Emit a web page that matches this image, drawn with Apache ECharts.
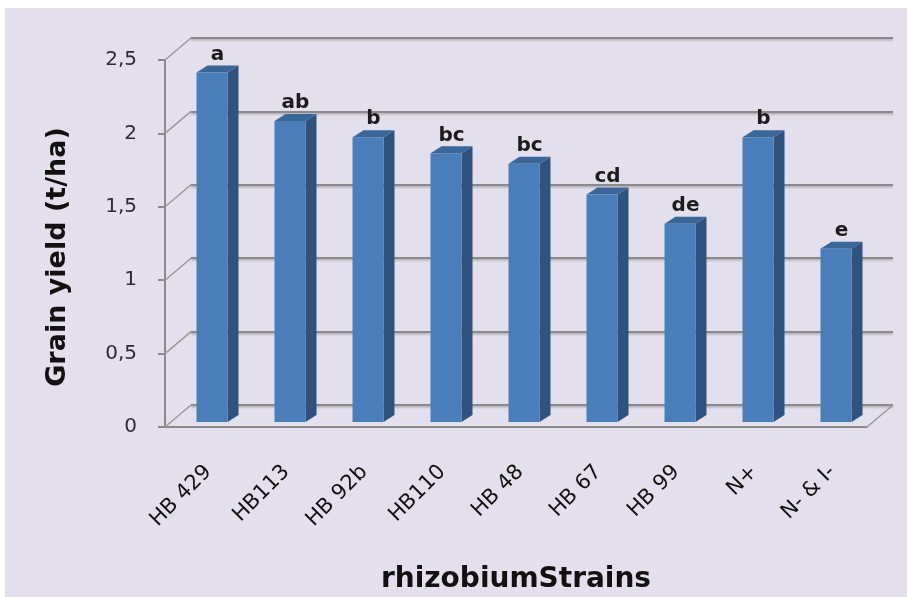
<!DOCTYPE html>
<html>
<head>
<meta charset="utf-8">
<script src="https://cdn.jsdelivr.net/npm/echarts@6/dist/echarts.min.js"></script>
<style>
html,body{margin:0;padding:0;background:#ffffff;}
#chart{width:907px;height:597px;}
</style>
</head>
<body>
<div id="chart"></div>
<script>
// ---- data ----
const categories = ['HB 429', 'HB113', 'HB 92b', 'HB110', 'HB 48', 'HB 67', 'HB 99', 'N+', 'N- & I-'];
const grainYield = [2.38, 2.05, 1.94, 1.83, 1.76, 1.55, 1.35, 1.94, 1.18];
const letters = ['a', 'ab', 'b', 'bc', 'bc', 'cd', 'de', 'b', 'e'];
const yTicks = [0, 0.5, 1, 1.5, 2, 2.5];
const yTitle = 'Grain yield (t/ha)';
const xTitle = 'rhizobiumStrains';

// ---- style constants ----
const FONT = 'DejaVu Sans';
const DX = 26, DY = -22;          // wall depth offset
const BAR_W = 31, BAR_DX = 11, BAR_DY = 7, BAR_SHIFT = 8, BAR_LIFT = 5;
const GRID_COLOR = '#8a8a8a';

const chart = echarts.init(document.getElementById('chart'), null, {renderer: 'canvas'});

const option = {
  animation: false,
  backgroundColor: '#e4dfec',
  grid: [
    {left: 165, top: 60, width: 702, height: 367},
    {left: 165 + DX, top: 60 + DY, width: 702, height: 367}
  ],
  xAxis: [
    {
      gridIndex: 0, type: 'category', data: categories,
      axisLine: {lineStyle: {color: GRID_COLOR, width: 2}},
      axisTick: {length: 6, lineStyle: {color: GRID_COLOR, width: 2}},
      axisLabel: {
        rotate: 45, fontFamily: FONT, fontSize: 21, color: '#111111',
        margin: 46, padding: [0, -6, 0, 0], interval: 0
      }
    },
    {gridIndex: 1, type: 'category', data: categories, show: false}
  ],
  yAxis: [
    {
      gridIndex: 0, type: 'value', min: 0, max: 2.5, interval: 0.5,
      axisLine: {show: true, lineStyle: {color: GRID_COLOR, width: 2}},
      axisTick: {show: true, length: 7, lineStyle: {color: GRID_COLOR, width: 2}},
      splitLine: {show: false},
      axisLabel: {
        fontFamily: FONT, fontSize: 20, color: '#2a2a3a', margin: 28,
        formatter: v => String(v).replace('.', ',')
      }
    },
    {
      gridIndex: 1, type: 'value', min: 0, max: 2.5, interval: 0.5,
      axisLine: {show: false}, axisTick: {show: false}, axisLabel: {show: false},
      splitLine: {show: true, lineStyle: {color: GRID_COLOR, width: 2,
        shadowColor: 'rgba(0,0,0,0.25)', shadowBlur: 2, shadowOffsetY: 1.5}}
    }
  ],
  graphic: [
    {type: 'rect', shape: {x: 0, y: 0, width: 5, height: 597}, style: {fill: '#ffffff'}, silent: true},
    {type: 'rect', shape: {x: 0, y: 0, width: 907, height: 8}, style: {fill: '#ffffff'}, silent: true},
    {type: 'text', x: 58, y: 257, rotation: Math.PI / 2,
      style: {text: yTitle, fontFamily: FONT, fontSize: 27, fontWeight: 'bold', fill: '#111111',
        align: 'center', verticalAlign: 'middle'}},
    {type: 'text', x: 516, y: 580,
      style: {text: xTitle, fontFamily: FONT, fontSize: 28, fontWeight: 'bold', fill: '#111111',
        align: 'center', verticalAlign: 'middle'}}
  ],
  series: [
    {
      type: 'custom', xAxisIndex: 0, yAxisIndex: 0, z: 1, silent: true,
      data: yTicks.map(v => [0, v]),
      renderItem: function (params, api) {
        const cs = params.coordSys;
        const p = api.coord([0, api.value(1)]);
        const x0 = cs.x, y0 = p[1];
        const children = [{
          type: 'line',
          shape: {x1: x0, y1: y0, x2: x0 + DX, y2: y0 + DY},
          style: {stroke: '#9a9a9a', lineWidth: 1.5}
        }];
        if (api.value(1) === 0) {
          const xr = cs.x + cs.width;
          children.push({
            type: 'line',
            shape: {x1: xr, y1: y0, x2: xr + DX, y2: y0 + DY},
            style: {stroke: '#9a9a9a', lineWidth: 1.5}
          });
        }
        return {type: 'group', children: children};
      }
    },
    {
      type: 'custom', xAxisIndex: 0, yAxisIndex: 0, z: 5, silent: true,
      data: grainYield.map((v, i) => [i, v]),
      renderItem: function (params, api) {
        const i = api.value(0), v = api.value(1);
        const top = api.coord([i, v]);
        const base = api.coord([i, 0]);
        const x0 = top[0] - BAR_W / 2 + BAR_SHIFT;
        const yT = top[1] - BAR_LIFT;
        const yB = base[1] - BAR_LIFT;
        const x1 = x0 + BAR_W;
        return {
          type: 'group',
          children: [
            {type: 'polygon', shape: {points: [[x1, yT], [x1 + BAR_DX, yT - BAR_DY], [x1 + BAR_DX, yB - BAR_DY], [x1, yB]]},
              style: {fill: '#30527f'}},
            {type: 'polygon', shape: {points: [[x0, yT], [x0 + BAR_DX, yT - BAR_DY], [x1 + BAR_DX, yT - BAR_DY], [x1, yT]]},
              style: {fill: '#3b6698'}},
            {type: 'rect', shape: {x: x0, y: yT, width: BAR_W, height: yB - yT},
              style: {fill: '#4a7ebb'}},
            {type: 'text', x: x0 + (BAR_W + BAR_DX) / 2, y: yT - BAR_DY - 11,
              style: {text: letters[params.dataIndex], fontFamily: FONT, fontSize: 20, fontWeight: 'bold',
                fill: '#1c1c1c', align: 'center', verticalAlign: 'middle'}}
          ]
        };
      }
    }
  ]
};
chart.setOption(option);
</script>
</body>
</html>
